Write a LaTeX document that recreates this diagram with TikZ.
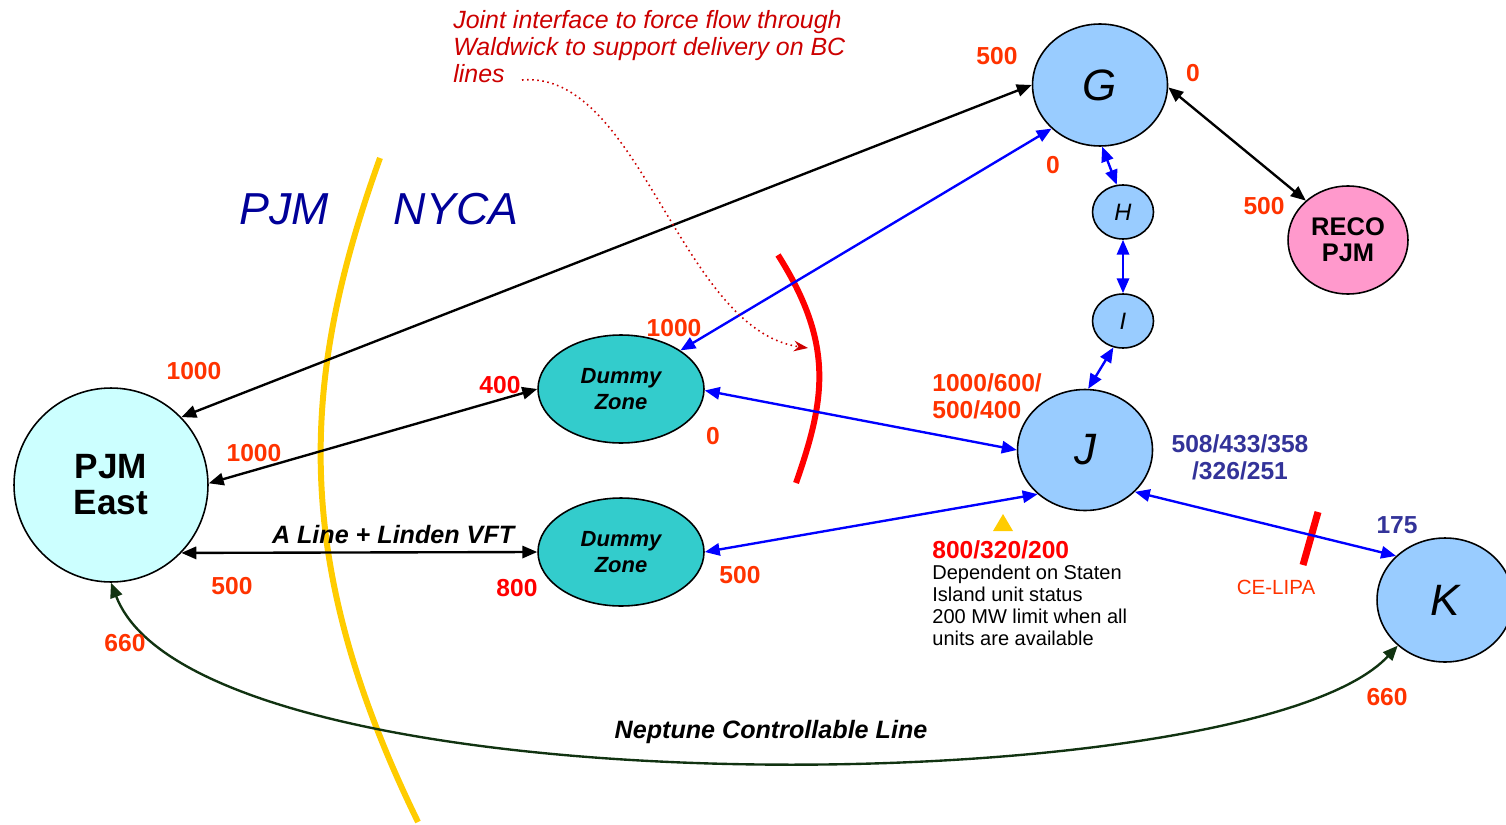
\documentclass[tikz,border=0pt]{standalone}
\usepackage{fontspec}
\setmainfont{Liberation Sans}
\usetikzlibrary{shapes.geometric,arrows.meta}

\definecolor{numorange}{HTML}{FF3300}
\definecolor{numred}{HTML}{FF0000}
\definecolor{numblue}{HTML}{333399}
\definecolor{notered}{HTML}{CC0000}
\definecolor{sidesblue}{HTML}{000099}
\definecolor{pjmfill}{HTML}{CCFFFF}
\definecolor{dummyfill}{HTML}{33CCCC}
\definecolor{nyfill}{HTML}{99CCFF}
\definecolor{recofill}{HTML}{FF99CC}
\definecolor{borderyellow}{HTML}{FFCC00}
\definecolor{neptunegreen}{HTML}{113311}

\begin{document}
\begin{tikzpicture}[x=0.02cm,y=-0.02cm,
    every node/.style={inner sep=0pt},
    zone/.style={ellipse,draw=black,line width=0.9pt},
    link/.style={line width=1.35pt,
      {Triangle[length=8.5pt,width=7pt]}-{Triangle[length=8.5pt,width=7pt]}},
    num/.style={font=\bfseries\fontsize{14}{15.3}\selectfont,text=numorange}]

    \useasboundingbox (0,0) rectangle (1506,824);

    % PJM / NYCA border and interface cut
    \draw[borderyellow,line width=3.4pt] (380,158) .. controls (300,380) and (290,560) .. (418,822);
    \draw[numred,line width=3.4pt] (778,255) .. controls (835,345) and (825,400) .. (796,483);
    \draw[numred,line width=4pt] (1318,512) -- (1303,565);
    \fill[borderyellow] (993,531) -- (1013,531) -- (1003,514) -- cycle;

    \path[font=\itshape\fontsize{25.5}{26}\selectfont,text=sidesblue]
        (284,224) node[anchor=base] (sidepjm) {PJM}
        (456,224) node[anchor=base] (sidenyca) {NYCA};

    % zones
    \node[zone,fill=pjmfill,minimum size=3.88cm,align=center,
          font=\bfseries\fontsize{20}{20.5}\selectfont] (pjm) at (111,485) {PJM\\East};
    \node[zone,fill=dummyfill,minimum width=3.32cm,minimum height=2.16cm,align=center,
          font=\bfseries\itshape\fontsize{12.5}{14.7}\selectfont] (dummyA) at (621,389) {Dummy\\Zone};
    \node[zone,fill=dummyfill,minimum width=3.32cm,minimum height=2.16cm,align=center,
          font=\bfseries\itshape\fontsize{12.5}{14.7}\selectfont] (dummyB) at (621,552) {Dummy\\Zone};
    \node[zone,fill=nyfill,minimum width=2.7cm,minimum height=2.44cm,
          font=\itshape\fontsize{25}{25}\selectfont] (G) at (1100,85) {G};
    \node[zone,fill=nyfill,minimum width=1.22cm,minimum height=1.08cm,
          font=\itshape\fontsize{13.5}{14}\selectfont] (H) at (1123,212) {H};
    \node[zone,fill=nyfill,minimum width=1.22cm,minimum height=1.08cm,
          font=\itshape\fontsize{13.5}{14}\selectfont] (I) at (1123,321) {I};
    \node[zone,fill=recofill,minimum width=2.4cm,minimum height=2.16cm,align=center,
          font=\bfseries\fontsize{14.5}{14.7}\selectfont] (reco) at (1348,240) {RECO\\PJM};
    \node[zone,fill=nyfill,minimum width=2.7cm,minimum height=2.42cm,
          font=\itshape\fontsize{25}{25}\selectfont] (J) at (1085,450) {J};
    \node[zone,fill=nyfill,minimum width=2.72cm,minimum height=2.48cm,
          font=\itshape\fontsize{25}{25}\selectfont] (K) at (1445,600) {K};

    % ties
    \draw[link,black] (pjm.44) -- (G.west);
    \draw[link,black] (pjm.1) -- (dummyA.west);
    \draw[link,black] (pjm.-44) -- (dummyB.west)
        node[pos=0.595,above=4pt,font=\bfseries\itshape\fontsize{14.3}{15}\selectfont,text=black] (aline) {A Line + Linden VFT};
    \draw[link,black] (G.-2) -- (reco.137);
    \draw[link,blue] (dummyA.33) -- (G.-138);
    \draw[link,blue] (dummyA.-1) -- (J.west);
    \draw[link,blue] (dummyB.east) -- (J.-137);
    \draw[link,blue] (G.-88) -- (H.103);
    \draw[link,blue] (H.south) -- (I.north);
    \draw[link,blue] (I.-110) -- (J.87);
    \draw[link,blue] (J.-40) -- (K.138);
    \draw[link,neptunegreen] (pjm.south) .. controls (200,815) and (1250,805) .. (K.-136);
    \node[font=\bfseries\itshape\fontsize{14.3}{15}\selectfont,anchor=base] (neptune) at (771,738) {Neptune Controllable Line};

    % note on the joint interface
    \node[anchor=north west,align=left,text=notered,
          font=\itshape\fontsize{14.2}{15.3}\selectfont] (note) at (453,10)
        {Joint interface to force flow through\\Waldwick to support delivery on BC\\lines};
    \coordinate (notestart) at (522,80);
    \coordinate (noteend) at (808,348);
    \draw[notered,line width=0.9pt,dotted,-{Stealth[length=8pt,width=6pt]}]
        (notestart) .. controls (640,70) and (680,330) .. (noteend);

    % limits
    \path[num]
        (997,56)   node (nGa) {500}
        (1193,73)  node (nGb) {0}
        (1053,165) node (nGc) {0}
        (1264,206) node (nreco) {500}
        (194,371)  node (npjma) {1000}
        (674,328)  node (ndumA) {1000}
        (254,453)  node (npjmb) {1000}
        (713,436)  node (ndumAb) {0}
        (232,586)  node (npjmc) {500}
        (740,575)  node (ndumB) {500}
        (125,643)  node (npjmd) {660}
        (1387,697) node (nK) {660};
    \path[num,text=numred]
        (500,385)  node (ndumAa) {400}
        (517,588)  node (ndumBa) {800};
    \node[num,anchor=north west,align=left] (nJa) at (932,373) {1000/600/\\500/400};
    \node[num,text=numblue,align=center] (nJb) at (1240,457) {508/433/358\\/326/251};
    \node[num,text=numblue] (nKa) at (1397,525) {175};
    \node[text=numorange,font=\fontsize{11.7}{12}\selectfont] (celipa) at (1276,587) {CE-LIPA};
    \node[num,text=numred,anchor=north west] (nJc) at (932,540) {800/320/200};
    \node[anchor=north west,align=left,font=\fontsize{11.4}{12.5}\selectfont] (statnote) at (932,565)
        {Dependent on Staten\\Island unit status\\200 MW limit when all\\units are available};
\end{tikzpicture}
\end{document}
